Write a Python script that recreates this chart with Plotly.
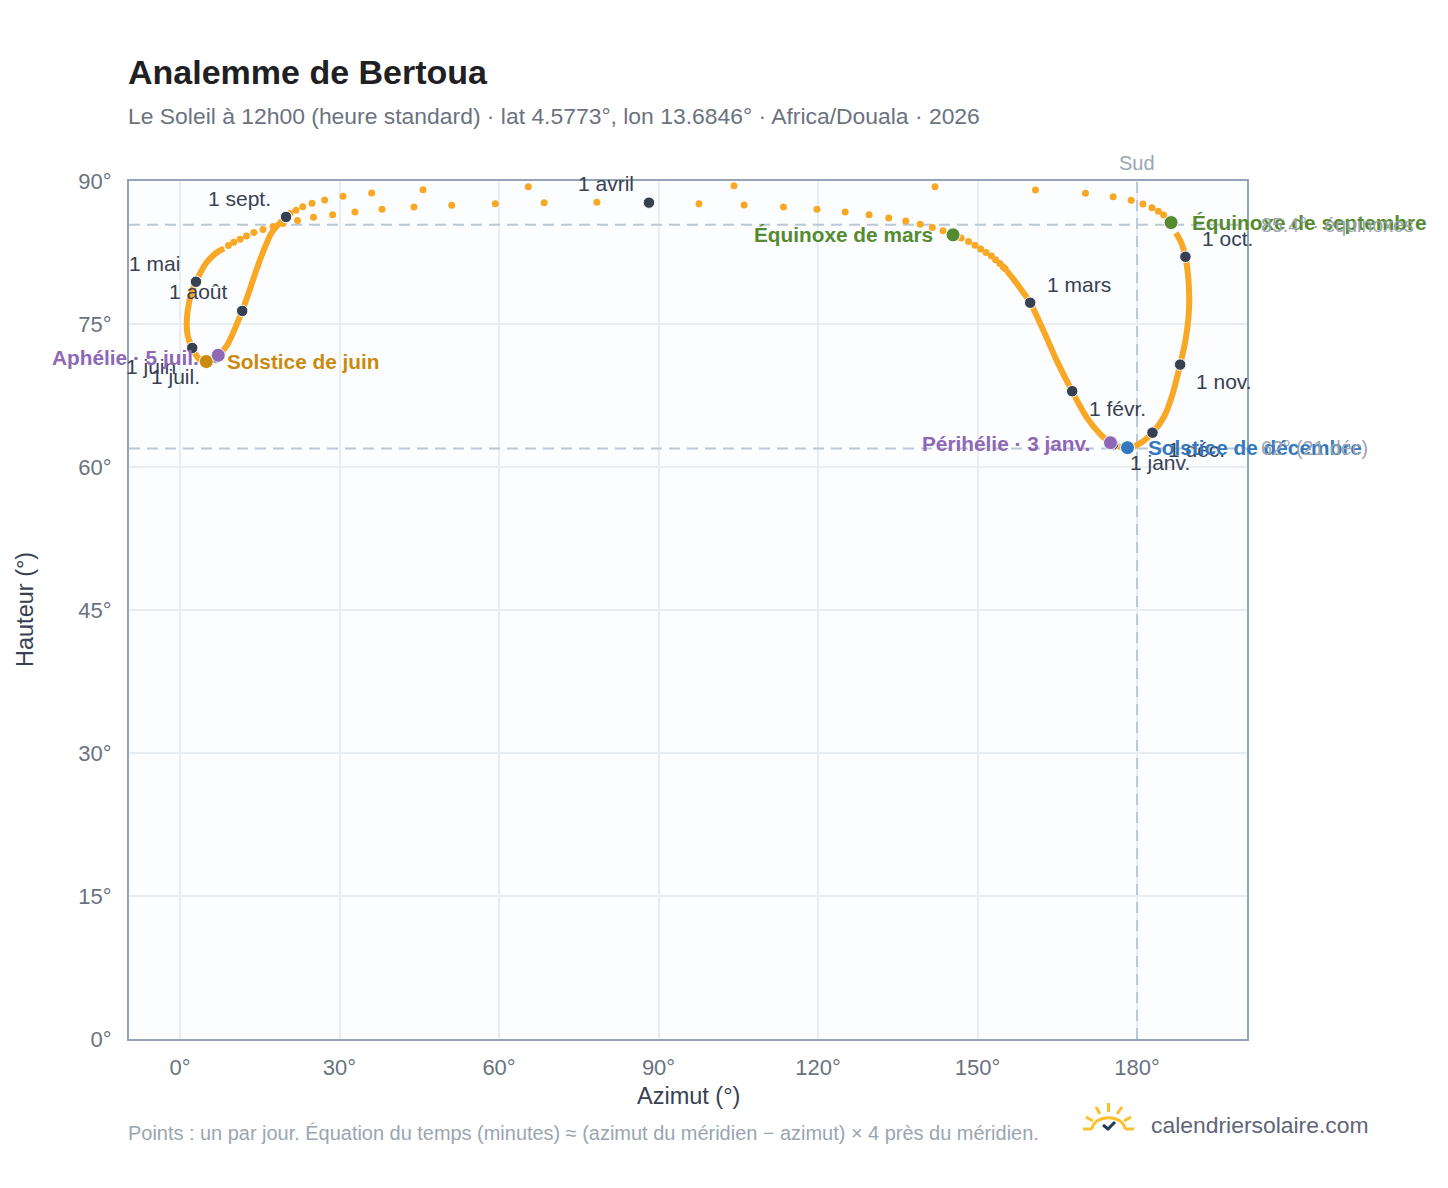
import plotly.graph_objects as go

W, H = 1448, 1188
PAGE = 8  # page margin of the browser around the figure
L, R, T, B = 129, 1247, 181, 1039  # plot area, in page pixels
FONT = "Liberation Sans"

ORANGE = "#f9a825"
DARK = "#374151"
GREEN = "#558b2f"
PURPLE = "#8e67b5"
GOLD = "#ca8a0e"
BLUE = "#3578bf"
GREY = "#94a3b8"
DASH = "#bcc8d4"

# Dense stretches of the curve (in order through the year)
arc_winter_az = [155.5, 157.0, 158.5, 159.9, 162.4, 164.9, 167.8, 170.5, 173.0, 175.0, 178.3, 180.55,
                 182.9, 185.1, 186.6, 188.1, 189.1, 189.7, 189.8, 189.6, 189.1, 188.4, 187.3]
arc_winter_alt = [80.58, 79.53, 78.38, 77.23, 74.30, 71.16, 67.95, 65.23, 63.49, 62.55, 62.0, 62.48,
                  63.60, 65.30, 67.50, 70.74, 73.26, 75.87, 77.96, 80.06, 82.05, 83.41, 84.56]
arc_summer_az = [8.3, 6.9, 5.0, 3.0, 2.0, 1.45, 1.26, 1.45, 2.3, 3.76, 4.95, 7.2, 8.8, 10.3, 11.7,
                 12.85, 14.1, 15.7, 17.25, 18.8, 19.94]
arc_summer_alt = [82.92, 82.50, 81.45, 79.43, 77.96, 76.40, 75.0, 73.78, 72.49, 71.24, 71.06, 71.72, 72.73,
                  74.48, 76.37, 78.14, 80.24, 82.67, 84.59, 85.6, 86.23]

# Individually visible daily dots
dots_az = [146.9, 148.3, 149.5, 150.6, 151.6, 152.6, 153.4, 154.2, 154.8, 155.2,
           143.5, 141.5, 139.2, 136.5, 133.3, 129.6, 125.1, 119.8, 113.5, 106.1, 97.6, 78.4, 68.5, 59.3, 51.1,
           44.0, 38.0, 32.9, 28.7, 25.1, 22.1, 19.4, 17.5, 15.6, 13.9, 12.5, 11.3, 10.1, 9.1,
           20.69, 21.82, 23.08, 24.83, 27.21, 30.66, 36.05, 45.70, 65.51, 104.2, 142.0, 160.9, 170.3, 175.5,
           178.9, 181.1, 182.8, 184.0, 185.0]
dots_alt = [84.03, 83.65, 83.27, 82.88, 82.50, 82.12, 81.73, 81.35, 81.0, 80.8,
            84.77, 85.11, 85.47, 85.81, 86.13, 86.47, 86.76, 87.04, 87.28, 87.49, 87.62, 87.77, 87.73, 87.62, 87.46,
            87.28, 87.04, 86.76, 86.47, 86.20, 85.85, 85.53, 85.22, 84.90, 84.59, 84.24, 83.90, 83.58, 83.23,
            86.58, 86.93, 87.31, 87.67, 88.01, 88.40, 88.74, 89.09, 89.40, 89.51, 89.40, 89.06, 88.71, 88.35,
            87.98, 87.59, 87.20, 86.83, 86.44]

# First of each month
month_labels = ["1 janv.", "1 févr.", "1 mars", "1 avril", "1 mai", "1 juin", "1 juil.", "1 août",
                "1 sept.", "1 oct.", "1 nov.", "1 déc."]
month_az = [175.5, 167.8, 159.9, 88.2, 3.0, 2.3, 6.77, 11.7, 19.94, 189.1, 188.1, 182.9]
month_alt = [62.37, 67.95, 77.23, 87.73, 79.43, 72.49, 71.48, 76.37, 86.23, 82.05, 70.74, 63.60]
month_dx = [47, 45, 49, -43, -41, -41, -41, -44, -47, 42, 44, 44]
month_dy = [18, 17, -18, -19, -18, 19, 19, -19, -18, -18, 17, 17]

# Notable days
event_labels = ["Équinoxe de mars", "Équinoxe de septembre", "Solstice de juin", "Solstice de décembre",
                "Aphélie · 5 juil.", "Périhélie · 3 janv."]
event_az = [145.4, 186.4, 4.95, 178.2, 7.2, 175.0]
event_alt = [84.35, 85.64, 71.06, 62.03, 71.72, 62.55]
event_colors = [GREEN, GREEN, GOLD, BLUE, PURPLE, PURPLE]
event_anchor = ["right", "left", "left", "left", "right", "right"]
event_dx = [-18, 19, 19, 19, -17, -18]
event_dy = [0, 0, 0, 0, 2, 1]

ref_alts = [85.4, 61.95]
ref_labels = ["85.4° · équinoxes", "62° (21 déc)"]
south_az = 180
x_ticks = [0, 30, 60, 90, 120, 150, 180]
y_ticks = [0, 15, 30, 45, 60, 75, 90]

X_RANGE = [(L - 180) / 5.317, (R - 180) / 5.317]
Y_RANGE = [0, 90]

fig = go.Figure()

dash_line = dict(color=DASH, width=2, dash="11px,7px")
for a in ref_alts:
    fig.add_trace(go.Scatter(x=X_RANGE, y=[a, a], mode="lines", line=dash_line, hoverinfo="skip", showlegend=False))
fig.add_trace(go.Scatter(x=[south_az, south_az], y=Y_RANGE, mode="lines", line=dash_line, hoverinfo="skip",
                         showlegend=False))

for xs, ys in ((arc_winter_az, arc_winter_alt), (arc_summer_az, arc_summer_alt)):
    fig.add_trace(go.Scatter(x=xs, y=ys, mode="lines", line=dict(color=ORANGE, width=6, shape="spline", smoothing=1.0),
                             hoverinfo="skip", showlegend=False, cliponaxis=False))
fig.add_trace(go.Scatter(x=dots_az, y=dots_alt, mode="markers", marker=dict(color=ORANGE, size=7),
                         hoverinfo="skip", showlegend=False, cliponaxis=False))
fig.add_trace(go.Scatter(x=month_az, y=month_alt, mode="markers",
                         marker=dict(color=DARK, size=11.5, line=dict(color="white", width=1)),
                         showlegend=False, cliponaxis=False))
fig.add_trace(go.Scatter(x=event_az, y=event_alt, mode="markers",
                         marker=dict(color=event_colors, size=14, line=dict(color="white", width=1)),
                         showlegend=False, cliponaxis=False))

annotations = []
for t, x, y, dx, dy in zip(month_labels, month_az, month_alt, month_dx, month_dy):
    annotations.append(dict(x=x, y=y, text=t, showarrow=False, xshift=dx, yshift=-dy,
                            font=dict(family=FONT, size=21, color=DARK)))
for t, x, y, c, a, dx, dy in zip(event_labels, event_az, event_alt, event_colors, event_anchor, event_dx, event_dy):
    annotations.append(dict(x=x, y=y, text=f"<b>{t}</b>", showarrow=False, xanchor=a, xshift=dx, yshift=-dy,
                            font=dict(family=FONT, size=20.8, color=c)))
for y, t in zip(ref_alts, ref_labels):
    annotations.append(dict(x=1, xref="paper", y=y, text=t, showarrow=False, xanchor="left", xshift=12,
                            font=dict(family=FONT, size=19.6, color="#9aa5b1")))
annotations.append(dict(x=south_az, y=1, yref="paper", text="Sud", showarrow=False, yanchor="bottom", yshift=5,
                        font=dict(family=FONT, size=20, color="#9aa5b1")))


def px(x):
    return (x - L) / (R - L)


def py(y):
    return (B - y) / (B - T)


def text_at(x, y, text, size, color, anchor="left", angle=0):
    annotations.append(dict(x=px(x), y=py(y), xref="paper", yref="paper", text=text, showarrow=False,
                            xanchor=anchor, yanchor="middle", textangle=angle, borderpad=0, xshift=0,
                            font=dict(family=FONT, size=size, color=color)))


text_at(127, 72, "<b>Analemme de Bertoua</b>", 34, "#1f2023")
text_at(127, 116, "Le Soleil à 12h00 (heure standard) · lat 4.5773°, lon 13.6846° · Africa/Douala · 2026", 22.9, "#6b7280")
text_at(688, 1096, "Azimut (°)", 23.5, DARK, "center")
text_at(25, 610, "Hauteur (°)", 23.5, DARK, "center", -90)
text_at(127, 1133, "Points : un par jour. Équation du temps (minutes) ≈ (azimut du méridien − azimut) × 4 près du méridien.",
        19.95, "#9aa5b1")
text_at(1150, 1125, "calendriersolaire.com", 22.9, "#5f6478")

shapes = []

# Sun logo
SUN = "#fbc02d"


def logo_line(x0, y0, x1, y1, color=SUN, width=3):
    shapes.append(dict(type="line", xref="paper", yref="paper", x0=px(x0), y0=py(y0), x1=px(x1), y1=py(y1),
                       line=dict(color=color, width=width)))


for seg in [(1083, 1129, 1092, 1129), (1125, 1129, 1134, 1129), (1086, 1117, 1093, 1121), (1131, 1117, 1124, 1121),
            (1096, 1107, 1100, 1114), (1122, 1107, 1117, 1114), (1108.5, 1103, 1108.5, 1112)]:
    logo_line(*seg)
arc = "M {} {} C {} {} {} {} {} {}".format(px(1092), py(1129), px(1094), py(1114), px(1123), py(1114), px(1125), py(1129))
shapes.append(dict(type="path", xref="paper", yref="paper", path=arc, line=dict(color=SUN, width=3)))
check = "M {} {} L {} {} L {} {}".format(px(1103), py(1125), px(1108), py(1129), px(1115), py(1122))
shapes.append(dict(type="path", xref="paper", yref="paper", path=check, line=dict(color="#1f3b57", width=3)))

fig.update_layout(
    width=W, height=H,
    margin=dict(l=L - PAGE, r=W - (R - PAGE), t=T - PAGE, b=H - (B - PAGE), autoexpand=False),
    paper_bgcolor="white", plot_bgcolor="#fbfdff", showlegend=False,
    font=dict(family=FONT), annotations=annotations, shapes=shapes,
    xaxis=dict(range=X_RANGE, tickmode="array", tickvals=x_ticks,
               ticktext=[f"{v}°" for v in x_ticks],
               showgrid=True, gridcolor="#e8edf2", gridwidth=2, zeroline=False, showline=True, linecolor=GREY,
               linewidth=2, mirror=True, ticks="outside", tickcolor="rgba(0,0,0,0)", ticklen=8,
               tickfont=dict(family=FONT, size=22, color="#6b7280")),
    yaxis=dict(range=Y_RANGE, tickmode="array", tickvals=y_ticks, ticktext=[f"{v}°" for v in y_ticks],
               showgrid=True, gridcolor="#e8edf2", gridwidth=2, zeroline=False, showline=True, linecolor=GREY,
               linewidth=2, mirror=True, ticks="outside", tickcolor="rgba(0,0,0,0)", ticklen=11,
               tickfont=dict(family=FONT, size=22, color="#6b7280")),
)

fig.write_html("out.html")
